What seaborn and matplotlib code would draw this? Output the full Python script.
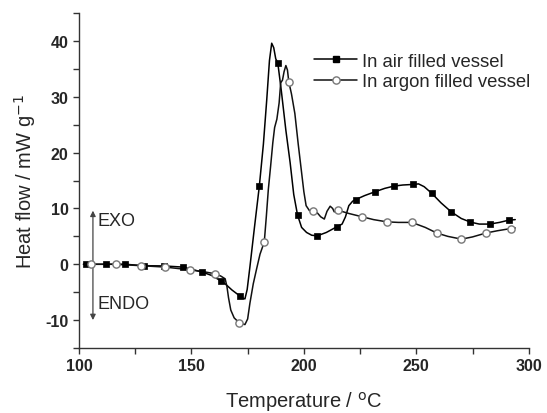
import matplotlib
matplotlib.use("Agg")
import matplotlib.pyplot as plt
from matplotlib.lines import Line2D
from matplotlib.ticker import MultipleLocator
import seaborn as sns

# DSC traces (temperature in °C, heat flow in mW/g)
air_T = [102, 103.1, 112, 120.5, 129, 137.8, 146.1, 154.8, 159, 163.2, 165, 168,
         171.6, 173, 173.8, 174.8, 176, 178, 180.2, 182, 183.5, 184.7, 185.7, 186.6,
         187.5, 188.4, 190, 192, 193.9, 195.5, 197.2, 199, 201.2, 203.5, 206, 210,
         214.6, 217, 218.5, 220, 221.7, 223.1, 227, 231.7, 236, 240, 244, 248.4,
         251, 253.5, 256.9, 261, 265.5, 270, 274.1, 278, 282.7, 287, 291.1, 294]
air_Q = [0, 0, 0, 0, -0.25, -0.3, -0.5, -1.4, -2.0, -3.0, -3.5, -4.6,
         -5.7, -6.1, -6.2, -4.5, -0.5, 6.5, 14.0, 21.5, 29.5, 36.5, 39.6, 38.8,
         36.8, 36.1, 31.0, 24.0, 18.2, 12.5, 8.8, 6.6, 5.7, 5.2, 5.1, 5.7,
         6.7, 7.2, 8.5, 10.5, 11.3, 11.6, 12.3, 13.0, 13.6, 14.0, 14.2, 14.3,
         14.4, 13.9, 12.7, 11.0, 9.4, 8.2, 7.55, 7.2, 7.2, 7.5, 7.9, 8.0]

argon_T = [102, 105.3, 116.3, 127.4, 138.2, 149.4, 155, 160.5, 163, 165, 165.8,
           166.5, 167.5, 169, 171.3, 173.8, 175, 176, 177.5, 179, 180.5, 182.4,
           183.3, 184.2, 185.2, 186.2, 187, 188, 189, 189.7, 190.5, 191.2, 192,
           192.7, 193.3, 194.5, 196, 197.5, 199, 200, 201, 202.5, 204.2, 206,
           207.5, 209.1, 210.3, 211.7, 212.8, 213.5, 215, 220, 226, 231, 236.9,
           242, 248, 254, 259.1, 264, 270.1, 275, 281, 286, 292, 294]
argon_Q = [0, 0, 0, -0.25, -0.5, -1.0, -1.3, -1.7, -2.1, -2.6, -4.0,
           -6.0, -8.2, -9.6, -10.5, -10.8, -9.8, -7.0, -3.5, -0.8, 1.8, 4.0,
           8.5, 13.4, 17.5, 21.8, 24.5, 26.0, 28.9, 32.5, 33.0, 34.5, 35.6,
           34.8, 32.7, 30.5, 27.0, 21.5, 16.4, 13.0, 10.5, 9.6, 9.5, 9.2,
           8.5, 8.1, 9.5, 10.4, 10.0, 9.4, 9.7, 9.1, 8.5, 8.0, 7.6,
           7.5, 7.5, 6.6, 5.6, 5.0, 4.5, 4.9, 5.6, 6.0, 6.4, 6.5]

# Symbol positions along each trace
air_mark_T = [103.1, 112, 120.5, 129, 137.8, 146.1, 154.8, 163.2, 171.6, 180.2,
              188.4, 197.2, 206, 214.6, 223.1, 231.7, 240, 248.4, 256.9, 265.5,
              274.1, 282.7, 291.1]
air_mark_Q = [0, 0, 0, -0.25, -0.3, -0.5, -1.4, -3.0, -5.7, 14.0,
              36.1, 8.8, 5.1, 6.7, 11.6, 13.0, 14.0, 14.3, 12.7, 9.4,
              7.55, 7.2, 7.9]
argon_mark_T = [105.3, 116.3, 127.4, 138.2, 149.4, 160.5, 171.3, 182.4, 193.3,
                204.2, 215, 226, 236.9, 248, 259.1, 270.1, 281, 292]
argon_mark_Q = [0, 0, -0.25, -0.5, -1.0, -1.7, -10.5, 4.0, 32.7,
                9.5, 9.7, 8.5, 7.6, 7.5, 5.6, 4.5, 5.6, 6.4]

labels = ["In air filled vessel", "In argon filled vessel"]

sns.set_style("ticks")
plt.rcParams["font.family"] = ["Liberation Sans", "DejaVu Sans"]
plt.rcParams["axes.unicode_minus"] = False

fig = plt.figure(figsize=(5.47, 4.14), dpi=100)
ax = fig.add_axes([0.1444, 0.157, 0.8222, 0.809])

sns.lineplot(x=air_T, y=air_Q, sort=False, estimator=None, color="black",
             lw=1.1, ax=ax)
sns.lineplot(x=argon_T, y=argon_Q, sort=False, estimator=None, color="#111111",
             lw=1.1, ax=ax)
sns.scatterplot(x=air_mark_T, y=air_mark_Q, marker="s", s=19, color="black",
                edgecolor="black", linewidth=0.5, zorder=5, ax=ax)
sns.scatterplot(x=argon_mark_T, y=argon_mark_Q, marker="o", s=27, color="white",
                edgecolor="#777777", linewidth=1.0, zorder=5, ax=ax)

ax.set_xlim(100, 300)
ax.set_ylim(-15, 45)
ax.xaxis.set_major_locator(MultipleLocator(50))
ax.xaxis.set_minor_locator(MultipleLocator(25))
ax.yaxis.set_major_locator(MultipleLocator(10))
ax.yaxis.set_minor_locator(MultipleLocator(5))
ax.tick_params(which="both", direction="out", length=4, width=1, color="#333333")
for lab in ax.get_xticklabels() + ax.get_yticklabels():
    lab.set_fontweight("bold")
    lab.set_fontsize(11.5)
sns.despine(ax=ax)
for sp in ("left", "bottom"):
    ax.spines[sp].set_linewidth(1.0)
    ax.spines[sp].set_color("#333333")

ax.set_xlabel("Temperature / $^{\\mathrm{o}}$C", fontsize=14.5, labelpad=11)
ax.set_ylabel("Heat flow / mW g$^{-1}$", fontsize=14.5, labelpad=5)

# EXO / ENDO direction arrow
ax.annotate("", xy=(106.2, 9.6), xytext=(106.2, -10.0),
            arrowprops=dict(arrowstyle="<|-|>", color="#444444", lw=0.9,
                            mutation_scale=8, shrinkA=0, shrinkB=0))
ax.text(108.3, 7.8, "EXO", fontsize=13, va="center", ha="left")
ax.text(108.3, -7.0, "ENDO", fontsize=13, va="center", ha="left")

handles = [
    Line2D([], [], color="black", lw=1.1, marker="s", markersize=4.3,
           markerfacecolor="black", markeredgecolor="black"),
    Line2D([], [], color="#111111", lw=1.1, marker="o", markersize=5.2,
           markerfacecolor="white", markeredgecolor="#777777"),
]
ax.legend(handles, labels, loc="upper left", bbox_to_anchor=(0.507, 0.904),
          frameon=False, fontsize=13.3, handlelength=2.3, handletextpad=0.3,
          labelspacing=0.2, borderaxespad=0)

fig.savefig("out.png", dpi=100)
